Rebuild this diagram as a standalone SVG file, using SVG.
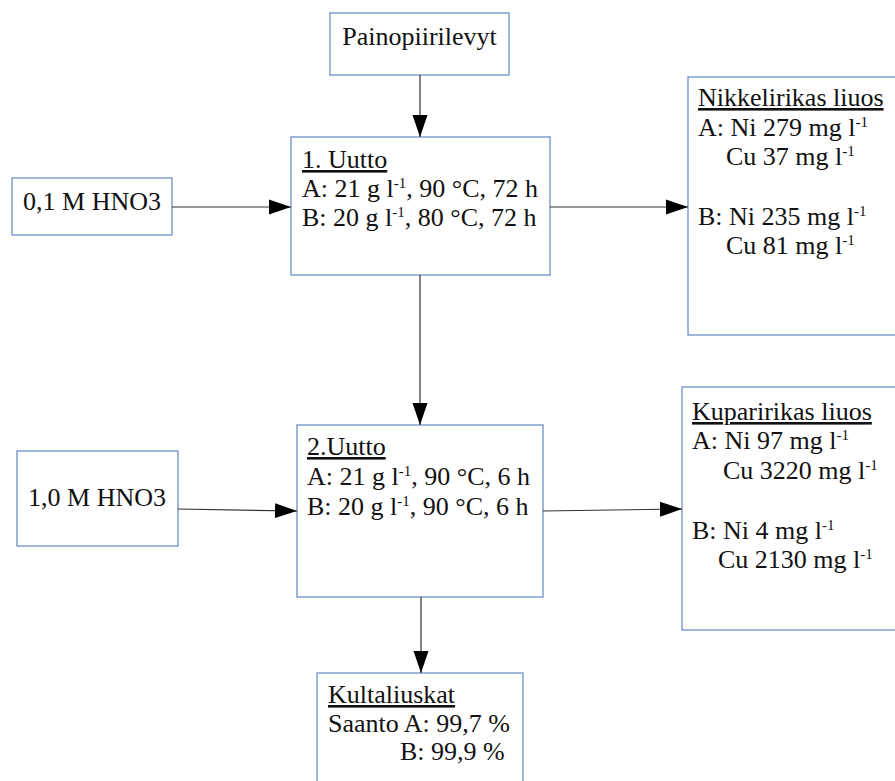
<svg xmlns="http://www.w3.org/2000/svg" width="895" height="781" viewBox="0 0 895 781">
<style>
.box{fill:#fff;stroke:#6d8fc6;stroke-width:1.3}
text{font-family:"Liberation Serif","Times New Roman",serif;font-size:26px;fill:#111}
.u{text-decoration:underline}
.c{text-anchor:middle}
.conn line{stroke:#333;stroke-width:1.2;marker-end:url(#ah)}
</style>
<defs>
<marker id="ah" markerUnits="userSpaceOnUse" markerWidth="22" markerHeight="16" refX="22" refY="8" orient="auto">
<path d="M0,0.5 L22,8 L0,15.5 z" fill="#000"/>
</marker>
</defs>
<rect width="895" height="781" fill="#fff"/>
<g id="n-paino"><rect class="box" x="330" y="13" width="179" height="62"/><text class="c" x="419.5" y="45">Painopiirilevyt</text></g>
<g id="n-hno01"><rect class="box" x="12" y="178" width="160" height="57"/><text class="c" x="92" y="210">0,1 M HNO3</text></g>
<g id="n-uutto1"><rect class="box" x="291" y="137" width="259" height="138"/>
<text class="u" x="302" y="168">1. Uutto</text>
<text x="302" y="197">A: 21 g l<tspan dy="-9" font-size="15">-1</tspan><tspan dy="9">, 90 °C, 72 h</tspan></text>
<text x="302" y="226">B: 20 g l<tspan dy="-9" font-size="15">-1</tspan><tspan dy="9">, 80 °C, 72 h</tspan></text>
</g>
<g id="n-nikkeli"><rect class="box" x="688" y="77" width="230" height="258"/>
<text class="u" x="698" y="106">Nikkelirikas liuos</text>
<text x="698" y="136">A: Ni 279 mg l<tspan dy="-9" font-size="15">-1</tspan></text>
<text x="726" y="165">Cu 37 mg l<tspan dy="-9" font-size="15">-1</tspan></text>
<text x="698" y="225">B: Ni 235 mg l<tspan dy="-9" font-size="15">-1</tspan></text>
<text x="726" y="254">Cu 81 mg l<tspan dy="-9" font-size="15">-1</tspan></text>
</g>
<g id="n-hno10"><rect class="box" x="17" y="451" width="161" height="95"/><text class="c" x="97" y="506">1,0 M HNO3</text></g>
<g id="n-uutto2"><rect class="box" x="297" y="425" width="246" height="172"/>
<text class="u" x="307" y="455">2.Uutto</text>
<text x="307" y="485">A: 21 g l<tspan dy="-9" font-size="15">-1</tspan><tspan dy="9">, 90 °C, 6 h</tspan></text>
<text x="307" y="515">B: 20 g l<tspan dy="-9" font-size="15">-1</tspan><tspan dy="9">, 90 °C, 6 h</tspan></text>
</g>
<g id="n-kupari"><rect class="box" x="682" y="387" width="230" height="243"/>
<text class="u" x="692" y="420">Kuparirikas liuos</text>
<text x="692" y="449">A: Ni 97 mg l<tspan dy="-9" font-size="15">-1</tspan></text>
<text x="723" y="479">Cu 3220 mg l<tspan dy="-9" font-size="15">-1</tspan></text>
<text x="692" y="539">B: Ni 4 mg l<tspan dy="-9" font-size="15">-1</tspan></text>
<text x="718" y="568">Cu 2130 mg l<tspan dy="-9" font-size="15">-1</tspan></text>
</g>
<g id="n-kulta"><rect class="box" x="317" y="673" width="206" height="130"/>
<text class="u" x="328" y="703">Kultaliuskat</text>
<text x="328" y="732">Saanto A: 99,7 %</text>
<text x="400" y="760">B: 99,9 %</text>
</g>
<g id="connectors" class="conn">
<line x1="420" y1="75" x2="420" y2="137"/>
<line x1="172" y1="207" x2="291" y2="207"/>
<line x1="550" y1="207" x2="688" y2="207"/>
<line x1="420" y1="275" x2="420" y2="425"/>
<line x1="178" y1="509" x2="297" y2="511"/>
<line x1="543" y1="511" x2="682" y2="509"/>
<line x1="421" y1="597" x2="421" y2="673"/>
</g>
</svg>
